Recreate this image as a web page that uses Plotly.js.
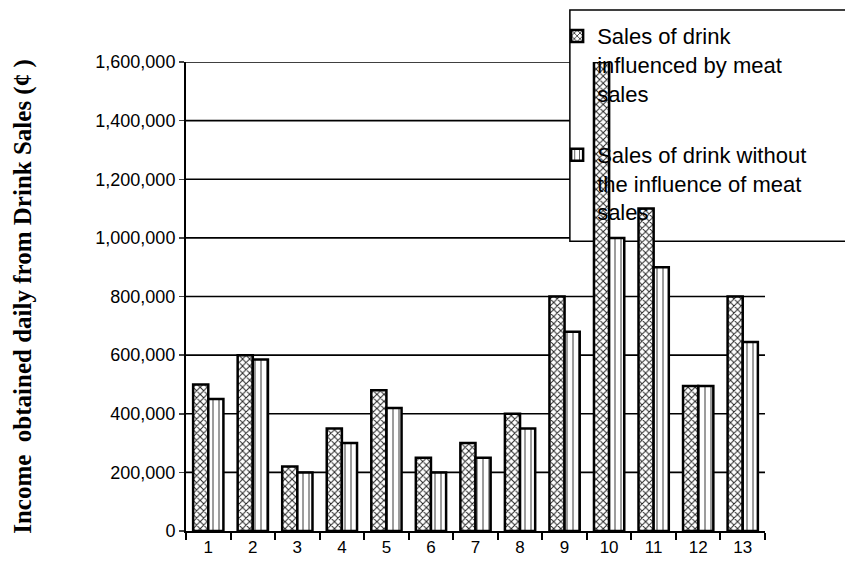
<!DOCTYPE html>
<html><head><meta charset="utf-8">
<script src="https://cdn.plot.ly/plotly-3.0.1.min.js"></script>
<style>body{margin:0;background:#fff}#c{width:845px;height:572px}</style>
</head><body><div id="c"></div>
<script>
const categories = ['1','2','3','4','5','6','7','8','9','10','11','12','13'];
const withMeat = [500000,600000,220000,350000,480000,250000,300000,400000,800000,1600000,1100000,495000,800000];
const withoutMeat = [450000,585000,200000,300000,420000,200000,250000,350000,680000,1000000,900000,495000,645000];
const seriesNames = ['Sales of drink<br>influenced by meat<br>sales','Sales of drink without<br>the influence of meat<br>sales'];
const yTicks = [0,200000,400000,600000,800000,1000000,1200000,1400000,1600000];
const yTickText = ['0','200,000','400,000','600,000','800,000','1,000,000','1,200,000','1,400,000','1,600,000'];

const traces = [
 {type:'bar', x:categories, y:withMeat, name:seriesNames[0], legendgroup:'a',
  marker:{color:'#ffffff', line:{color:'#000',width:2.5},
    pattern:{shape:'x', size:5, solidity:0.35, fgcolor:'#222', bgcolor:'#fff'}}},
 {type:'bar', x:categories, y:withoutMeat, name:seriesNames[1], legendgroup:'b',
  marker:{color:'#ffffff', line:{color:'#000',width:2.5},
    pattern:{shape:'|', size:6, solidity:0.15, fgcolor:'#222', bgcolor:'#fff'}}}
];

// horizontal gridlines built from the tick values (drawn below the legend box)
const gridShapes = yTicks.filter(v => v > 0).map(v => ({
  type:'line', xref:'paper', yref:'y', x0:0, x1:1, y0:v, y1:v,
  line:{color:'#000', width:1.6}, layer:'below'}));

const layout = {
 width:845, height:572,
 margin:{l:186, r:80, t:62, b:41, autoexpand:false},
 paper_bgcolor:'#fff', plot_bgcolor:'rgba(0,0,0,0)',
 font:{family:'Arial, Liberation Sans, sans-serif', size:16, color:'#000'},
 barmode:'group', bargap:0.32, bargroupgap:0,
 showlegend:true,
 legend:{x:0.641, y:1.1, xanchor:'left', yanchor:'top', bgcolor:'rgba(0,0,0,0)',
   borderwidth:0, font:{size:22, family:'Arial, Liberation Sans, sans-serif'},
   traceorder:'grouped', tracegroupgap:30, itemwidth:30, valign:'top'},
 xaxis:{type:'category', showline:true, linecolor:'#000', linewidth:2,
   ticks:'outside', tickson:'boundaries', ticklen:7, tickwidth:2, tickcolor:'#000',
   showgrid:false, tickfont:{size:17}},
 yaxis:{range:[0,1600000], tickvals:yTicks, ticktext:yTickText,
   showline:true, linecolor:'#000', linewidth:2, ticks:'outside', ticklen:5, tickwidth:1.5,
   showgrid:false, zeroline:false, tickfont:{size:18},
   title:{text:'Income  obtained daily from Drink Sales (¢ )', standoff:57,
     font:{family:'Times New Roman, Liberation Serif, serif', size:25, weight:'bold'}}},
 shapes: gridShapes.concat([
  {type:'rect', xref:'paper', yref:'paper', x0:0.663, x1:1.2, y0:0.618, y1:1.111,
   fillcolor:'#fff', line:{color:'#000', width:1.5}, layer:'below'}
 ])
};
Plotly.newPlot('c', traces, layout, {staticPlot:true});
</script></body></html>
